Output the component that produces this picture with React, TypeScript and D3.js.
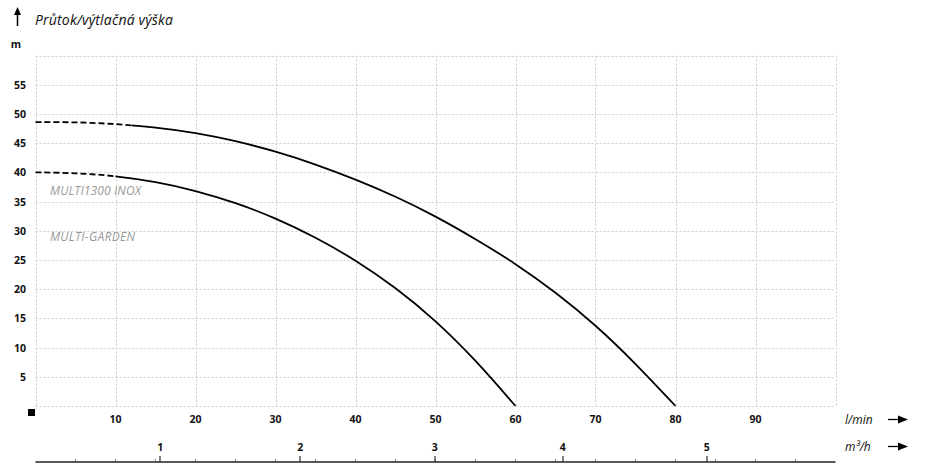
import React from "react";
import * as d3 from "d3";

const flowTicks = [10, 20, 30, 40, 50, 60, 70, 80, 90];
const headTicks = [5, 10, 15, 20, 25, 30, 35, 40, 45, 50, 55];
const m3hLabels = ["1", "2", "3", "4", "5"];
const m3hPositions = [15.6, 33.1, 49.9, 65.9, 83.9]; // in l/min, as drawn in the reference

const inoxFlow = [0, 5, 10, 15, 20, 25, 30, 35, 40, 45, 50, 55, 60, 65, 70, 75, 80];
const inoxHead = [48.6, 48.6, 48.3, 47.7, 46.8, 45.4, 43.6, 41.4, 38.8, 35.9, 32.5, 28.6, 24.4, 19.5, 13.9, 7.3, 0];
const gardenFlow = [0, 5, 10, 15, 20, 25, 30, 35, 40, 45, 50, 55, 60];
const gardenHead = [40, 39.9, 39.4, 38.4, 36.9, 34.8, 32.2, 28.9, 25.0, 20.3, 14.7, 7.9, 0];

const seriesNames = ["MULTI1300 INOX", "MULTI-GARDEN"];
const dashedUntil = [12, 10];

const W = 929;
const H = 471;
const FONT = "'Open Sans', 'Noto Sans', sans-serif";

export default function App() {
  const x = d3.scaleLinear().domain([0, 100]).range([35.5, 835.5]);
  const y = d3.scaleLinear().domain([0, 60]).range([406, 55.5]);

  const line = d3
    .line<[number, number]>()
    .x((d) => x(d[0]))
    .y((d) => y(d[1]))
    .curve(d3.curveBasis);

  const series = [
    inoxFlow.map((f, i) => [f, inoxHead[i]] as [number, number]),
    gardenFlow.map((f, i) => [f, gardenHead[i]] as [number, number]),
  ];

  const vGrid = d3.range(0, 101, 10);
  const hGrid = d3.range(5, 61, 5);
  const minorTicks = d3.range(5, 100, 5);

  return (
    <svg width={W} height={H} style={{ position: "absolute", left: 0, top: 0, background: "#fff" }}>
      <defs>
        {series.map((_, i) => (
          <React.Fragment key={i}>
            <clipPath id={`dash${i}`}>
              <rect x={0} y={0} width={x(dashedUntil[i])} height={H} />
            </clipPath>
            <clipPath id={`solid${i}`}>
              <rect x={x(dashedUntil[i])} y={0} width={W} height={H} />
            </clipPath>
          </React.Fragment>
        ))}
      </defs>

      {/* grid */}
      <g stroke="#cccccc" strokeWidth={1} strokeDasharray="2,2">
        {vGrid.map((v) => (
          <line key={"v" + v} x1={Math.round(x(v)) + 0.5} x2={Math.round(x(v)) + 0.5} y1={y(60)} y2={y(0)} />
        ))}
        {hGrid.map((v) => (
          <line key={"h" + v} x1={x(0)} x2={x(100)} y1={Math.round(y(v)) + 0.5} y2={Math.round(y(v)) + 0.5} />
        ))}
        <line x1={x(0)} x2={x(100)} y1={Math.round(y(0)) + 0.5} y2={Math.round(y(0)) + 0.5} />
      </g>

      {/* curves */}
      {series.map((s, i) => (
        <g key={i} fill="none" stroke="#000" strokeWidth={1.8}>
          <path d={line(s) || ""} clipPath={`url(#dash${i})`} strokeDasharray="6,3" />
          <path d={line(s) || ""} clipPath={`url(#solid${i})`} />
        </g>
      ))}

      {/* series labels */}
      <g fontFamily={FONT} fontStyle="italic" fontSize={12} fill="#9a9a9a">
        <text x={50} y={195} textLength={91}>{seriesNames[0]}</text>
        <text x={50} y={241} textLength={85}>{seriesNames[1]}</text>
      </g>

      {/* y axis labels */}
      <g fontFamily={FONT} fontWeight="bold" fontSize={10.5} fill="#111" textAnchor="end">
        {headTicks.map((v) => (
          <text key={v} x={26} y={y(v) + 4}>{v}</text>
        ))}
        <text x={21} y={48}>m</text>
      </g>

      {/* title + up arrow */}
      <line x1={17.5} x2={17.5} y1={14} y2={26} stroke="#000" strokeWidth={1.5} />
      <path d="M17.5,7 L14,15 L21,15 Z" fill="#000" />
      <text x={35} y={25} fontFamily={FONT} fontStyle="italic" fontSize={14} fill="#111" textLength={138}>
        Průtok/výtlačná výška
      </text>

      {/* origin square */}
      <rect x={28} y={409} width={7} height={7} fill="#000" />

      {/* l/min labels */}
      <g fontFamily={FONT} fontWeight="bold" fontSize={10.5} fill="#111" textAnchor="middle">
        {flowTicks.map((v) => (
          <text key={v} x={x(v)} y={423}>{v}</text>
        ))}
        {m3hLabels.map((l, i) => (
          <text key={l} x={x(m3hPositions[i])} y={451}>{l}</text>
        ))}
      </g>

      {/* m3/h axis line */}
      <g>
        {minorTicks.map((v) => (
          <line key={v} x1={x(v)} x2={x(v)} y1={459} y2={462} stroke="#888" strokeWidth={1} />
        ))}
        {m3hPositions.map((p, i) => (
          <line key={i} x1={Math.round(x(p))} x2={Math.round(x(p))} y1={456} y2={462} stroke="#333" strokeWidth={1.2} />
        ))}
        <line x1={x(0)} x2={x(100)} y1={462} y2={462} stroke="#222" strokeWidth={1.6} />
      </g>

      {/* unit labels + arrows */}
      <g fontFamily={FONT} fontStyle="italic" fontSize={12} fill="#111">
        <text x={845} y={424}>l/min</text>
        <text x={845} y={451}>m³/h</text>
      </g>
      {[419.5, 446.5].map((yy) => (
        <g key={yy}>
          <line x1={888} x2={900} y1={yy} y2={yy} stroke="#000" strokeWidth={1.3} />
          <path d={`M908,${yy} L898,${yy - 4} L898,${yy + 4} Z`} fill="#000" />
        </g>
      ))}
    </svg>
  );
}
